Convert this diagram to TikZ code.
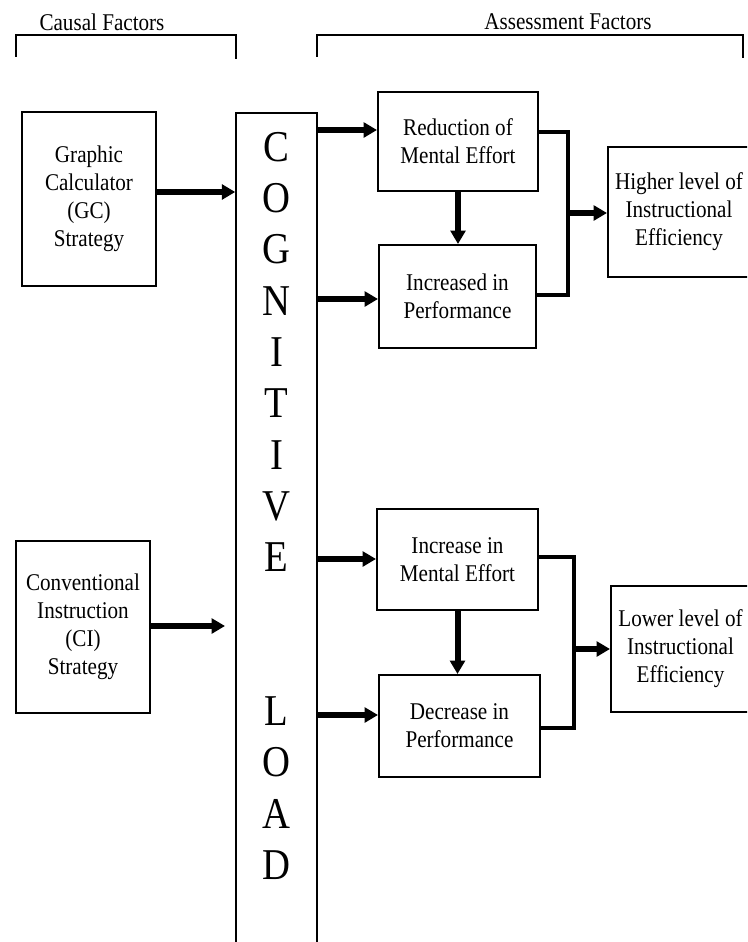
\documentclass[tikz,border=0pt]{standalone}
\usepackage{fontspec}
\setmainfont{Liberation Serif}[FakeStretch=0.88]
\usetikzlibrary{arrows.meta}

\tikzset{
  box/.style={draw, line width=1.5pt, inner sep=0pt, align=center},
  letter/.style={font=\fontsize{33}{33}\selectfont, inner sep=0pt},
  arr/.style={line width=4.5pt, -{Triangle[length=10pt,width=11pt]}},
  fork/.style={line width=3.5pt},
  rule/.style={line width=1.1pt},
}

\begin{document}
\begin{tikzpicture}[x=0.75pt,y=0.75pt,yscale=-1,xscale=1,font=\fontsize{18}{21}\selectfont]
    %set diagram to 747 x 942
    \clip (0,0) rectangle (747,942);

    % Text Node
    \draw (102,22) node [inner sep=0pt] (causal) {Causal Factors};
    % Text Node
    \draw (568,22) node [inner sep=0pt] (assess) {Assessment Factors};
    %Straight Lines [causal bracket]
    \draw [rule] (16,57) -- (16,35) -- (236,35) -- (236,59) ;
    %Straight Lines [assessment bracket]
    \draw [rule] (317,57) -- (317,35) -- (743,35) -- (743,58) ;

    % Boxes
    \draw (89,199) node [box, minimum width=100.5pt, minimum height=130.5pt] (gc) {Graphic\\Calculator\\(GC)\\Strategy};
    \draw (83,627) node [box, minimum width=100.5pt, minimum height=129pt] (ci) {Conventional\\Instruction\\(CI)\\Strategy};
    \draw (276.5,556.5) node [box, line width=1.1pt, minimum width=60.75pt, minimum height=665pt] (cog) {};
    \draw (458,141.5) node [box, minimum width=120pt, minimum height=74.25pt] (red) {Reduction of\\Mental Effort};
    \draw (457.5,296.5) node [box, minimum width=117.75pt, minimum height=77.25pt] (ip) {Increased in\\Performance};
    \draw (679,212) node [box, minimum width=106.5pt, minimum height=97.5pt] (hi) {Higher level of\\Instructional\\Efficiency};
    \draw (457.5,559.5) node [box, minimum width=120.75pt, minimum height=75.75pt] (ime) {Increase in\\Mental Effort};
    \draw (459.5,726) node [box, minimum width=120.75pt, minimum height=76.5pt] (dp) {Decrease in\\Performance};
    \draw (680.5,649) node [box, minimum width=104.25pt, minimum height=94.5pt] (lo) {Lower level of\\Instructional\\Efficiency};

    % Text Node [cognitive load letters]
    \draw (276.5,147) node [letter] (c1) {C};
    \draw (276.5,198.3) node [letter] (c2) {O};
    \draw (276.5,249.6) node [letter] (c3) {G};
    \draw (276.5,300.9) node [letter] (c4) {N};
    \draw (276.5,352.2) node [letter] (c5) {I};
    \draw (276.5,403.5) node [letter] (c6) {T};
    \draw (276.5,454.8) node [letter] (c7) {I};
    \draw (276.5,506.1) node [letter] (c8) {V};
    \draw (276.5,557.4) node [letter] (c9) {E};
    \draw (276.5,711.3) node [letter] (l1) {L};
    \draw (276.5,762.6) node [letter] (l2) {O};
    \draw (276.5,813.9) node [letter] (l3) {A};
    \draw (276.5,865.2) node [letter] (l4) {D};

    % arrow heights
    \coordinate (yGC) at (0,192);
    \coordinate (ciEnd) at (225,626);
    \coordinate (yRed) at (0,130);
    \coordinate (yIP) at (0,299);
    \coordinate (yIME) at (0,559);
    \coordinate (yDP) at (0,715);
    \coordinate (hiA) at (568,132);
    \coordinate (hiB) at (568,295);
    \coordinate (hiM) at (568,213);
    \coordinate (loA) at (574,557);
    \coordinate (loB) at (574,728);
    \coordinate (loM) at (574,649);

    %Arrows [causal]
    \draw [arr] (gc.east |- yGC) -- (cog.west |- yGC) ;
    \draw [arr] (ci.east |- ciEnd) -- (ciEnd) ;
    %Arrows [upper]
    \draw [arr] (cog.east |- yRed) -- (red.west |- yRed) ;
    \draw [arr] (cog.east |- yIP) -- (ip.west |- yIP) ;
    \draw [arr] (red.south) -- (red.south |- ip.north) ;
    \draw [fork] (red.east |- hiA) -- (hiA) -- (hiB) -- (ip.east |- hiB) ;
    \draw [arr] (hiM) -- (hi.west |- hiM) ;
    %Arrows [lower]
    \draw [arr] (cog.east |- yIME) -- (ime.west |- yIME) ;
    \draw [arr] (cog.east |- yDP) -- (dp.west |- yDP) ;
    \draw [arr] (ime.south) -- (ime.south |- dp.north) ;
    \draw [fork] (ime.east |- loA) -- (loA) -- (loB) -- (dp.east |- loB) ;
    \draw [arr] (loM) -- (lo.west |- loM) ;

\end{tikzpicture}
\end{document}
